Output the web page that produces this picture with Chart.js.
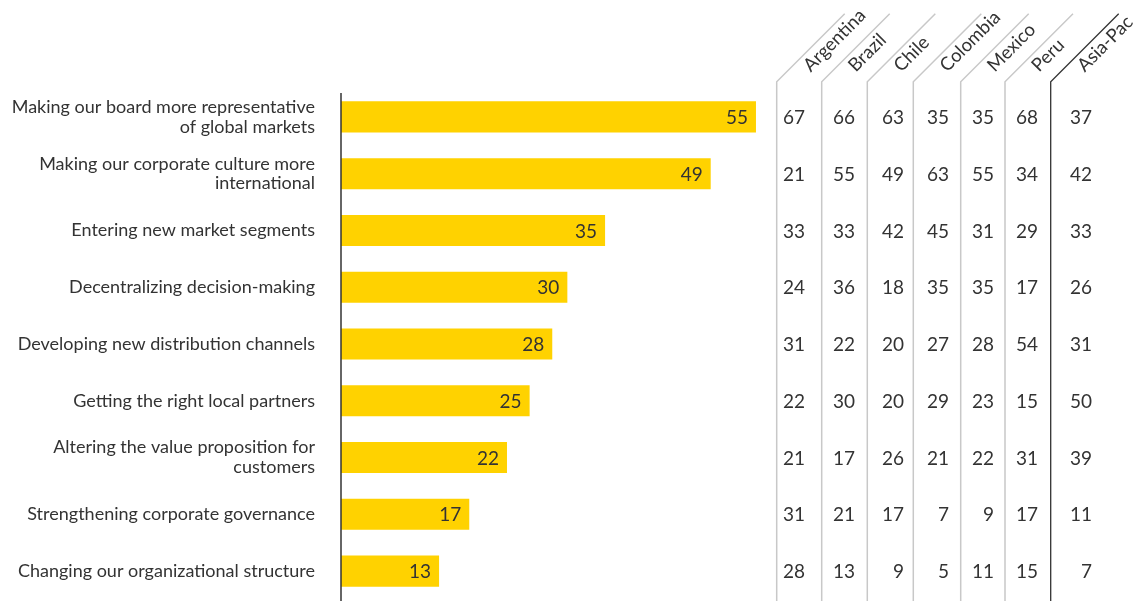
<!DOCTYPE html>
<html><head><meta charset="utf-8">
<script src="https://cdn.jsdelivr.net/npm/chart.js@4.4.0/dist/chart.umd.min.js"></script>
<style>html,body{margin:0;padding:0;background:#fff;overflow:hidden}</style>
</head><body><canvas id="c" width="1141" height="601" style="display:block;width:1141px;height:601px"></canvas>
<script>
const categories = [
  ['Making our board more representative','of global markets'],
  ['Making our corporate culture more','international'],
  'Entering new market segments',
  'Decentralizing decision-making',
  'Developing new distribution channels',
  'Getting the right local partners',
  ['Altering the value proposition for','customers'],
  'Strengthening corporate governance',
  'Changing our organizational structure'
];
const totalValues = [55,49,35,30,28,25,22,17,13];
const countries = ['Argentina','Brazil','Chile','Colombia','Mexico','Peru','Asia-Pac'];
const argentina = [67,21,33,24,31,22,21,31,28];
const brazil    = [66,55,33,36,22,30,17,21,13];
const chile     = [63,49,42,18,20,20,26,17,9];
const colombia  = [35,63,45,35,27,29,21,7,5];
const mexico    = [35,55,31,35,28,23,22,9,11];
const peru      = [68,34,29,17,54,15,31,17,15];
const asiaPac   = [37,42,33,26,31,50,39,11,7];
const countryValues = [argentina,brazil,chile,colombia,mexico,peru,asiaPac];

const FONT = 'Lato, "Open Sans", sans-serif';
const TXT = '#333333';
const colLines = [776.7,821.7,867.3,913.3,960.7,1005,1050.7];
const colRight = [805,855,904,949,994,1038,1092];
const headerTop = 81.7;

const overlay = {
  id:'overlay',
  afterDatasetsDraw(chart){
    const ctx = chart.ctx;
    const meta = chart.getDatasetMeta(0);
    const ys = chart.scales.y;
    ctx.save();
    ctx.strokeStyle = '#333'; ctx.lineWidth = 1.5;
    ctx.beginPath(); ctx.moveTo(341, 93); ctx.lineTo(341, 601); ctx.stroke();
    ctx.font = '19px ' + FONT; ctx.fillStyle = TXT;
    ctx.textAlign = 'right'; ctx.textBaseline = 'middle';
    meta.data.forEach((bar,i)=>{
      ctx.fillText(String(totalValues[i]), bar.x - 8, bar.y + 1);
    });
    colLines.forEach((x,j)=>{
      const last = j === colLines.length-1;
      ctx.strokeStyle = last ? '#333' : '#c8c8c8';
      ctx.lineWidth = last ? 1.3 : 1.5;
      ctx.beginPath();
      ctx.moveTo(x, 601); ctx.lineTo(x, headerTop); ctx.lineTo(x+68, headerTop-68);
      ctx.stroke();
      ctx.save();
      ctx.translate(x+34, headerTop-9);
      ctx.rotate(-Math.PI/4);
      ctx.font = '18.5px ' + FONT; ctx.fillStyle = TXT;
      ctx.textAlign = 'left'; ctx.textBaseline = 'alphabetic';
      ctx.fillText(countries[j], 0, 0);
      ctx.restore();
    });
    ctx.font = '19px ' + FONT; ctx.fillStyle = TXT;
    ctx.textAlign = 'right'; ctx.textBaseline = 'middle';
    countryValues.forEach((arr,j)=>{
      arr.forEach((v,i)=>{
        ctx.fillText(String(v), colRight[j], ys.getPixelForValue(i) + 1);
      });
    });
    ctx.restore();
  }
};

new Chart(document.getElementById('c'), {
  type:'bar',
  data:{ labels: categories, datasets:[{ data: totalValues, backgroundColor:'#FFD200', barPercentage:0.55, categoryPercentage:1 }]},
  options:{
    indexAxis:'y', responsive:false, maintainAspectRatio:false, animation:false, devicePixelRatio:1,
    layout:{ padding:{ top:88.6, bottom:1.6, right:347.3, left:0 } },
    plugins:{ legend:{display:false}, tooltip:{enabled:false} },
    scales:{
      x:{ display:false, min:0, max:60 },
      y:{
        grid:{ display:false, drawTicks:false }, border:{ display:false },
        ticks:{ color:TXT, font:{ family:FONT, size:18, lineHeight:1.1 }, padding:26 },
        afterFit(s){ s.width = 341; s.paddingTop = 0; s.paddingBottom = 0; }
      }
    }
  },
  plugins:[overlay]
});
</script></body></html>
